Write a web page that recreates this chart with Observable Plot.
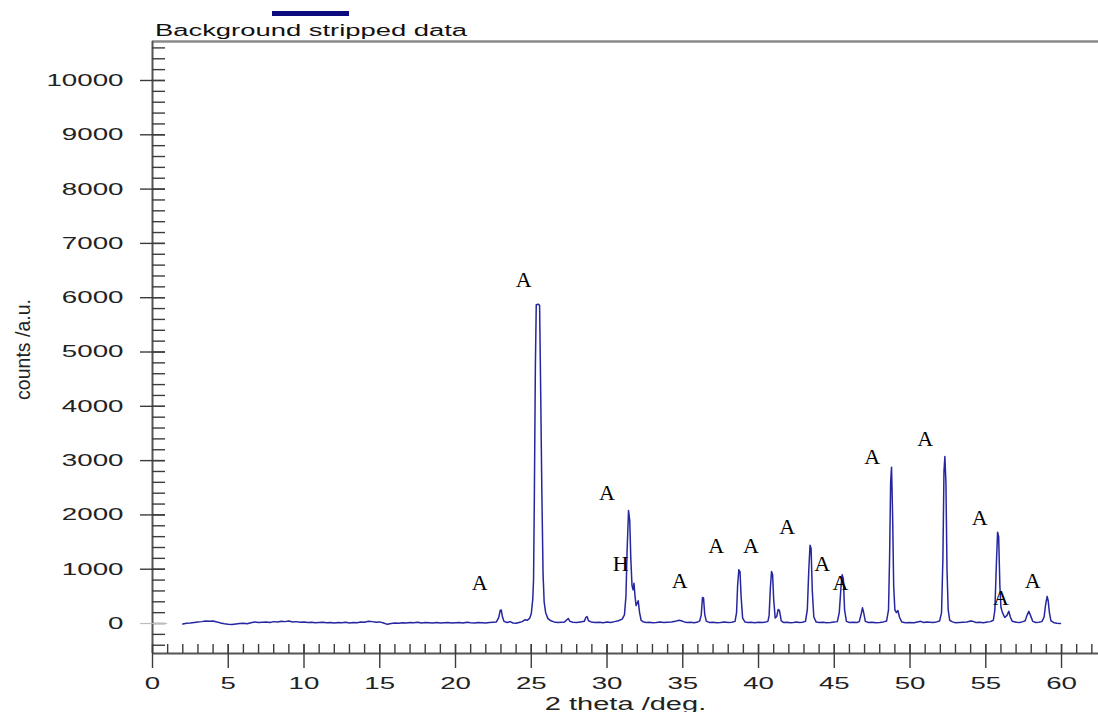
<!DOCTYPE html>
<html>
<head>
<meta charset="utf-8">
<script src="https://cdn.jsdelivr.net/npm/d3@7"></script>
<script src="https://cdn.jsdelivr.net/npm/@observablehq/plot@0.6"></script>
<style>
  html, body { margin: 0; padding: 0; background: #fff; }
  body { width: 1098px; height: 712px; overflow: hidden; font-family: "Liberation Sans", Arial, sans-serif; }
  #legend { position: relative; height: 36px; }
  #legend .swatch { position: absolute; left: 272px; top: 11px; width: 77px; height: 5px; background: #0b0b7e; }
  #legendText { position: absolute; left: 155px; top: 23px; font-size: 16px; line-height: 16px; color: #111; white-space: nowrap; display: inline-block; transform-origin: 0 0; }
  #chart svg { display: block; }
</style>
</head>
<body>
<div id="legend"><div class="swatch"></div><span id="legendText">Background stripped data</span></div>
<div id="chart"></div>
<script>
// ---- data (2θ in degrees, counts in a.u.) ----
const backgroundLow = [
  [2.0,-10],[2.25,5],[2.5,10],[2.75,20],[3.0,30],[3.25,35],[3.5,45],[3.75,40],[4.0,45],[4.25,30],
  [4.5,10],[4.75,-5],[5.0,-15],[5.25,-20],[5.5,-10],[5.75,0],[6.0,5],[6.25,-5],[6.5,15],[6.75,30],
  [7.0,20],[7.25,25],[7.5,30],[7.75,20],[8.0,35],[8.25,30],[8.5,40],[8.75,35],[9.0,45],[9.25,30],
  [9.5,35],[9.75,25],[10.0,30],[10.25,20],[10.5,25],[10.75,15],[11.0,20],[11.25,25],[11.5,15],[11.75,20],
  [12.0,10],[12.25,20],[12.5,15],[12.75,25],[13.0,10],[13.25,20],[13.5,15],[13.75,30],[14.0,25],[14.25,40],
  [14.5,35],[14.75,25],[15.0,30],[15.25,10],[15.5,-15],[15.75,0],[16.0,10],[16.25,5],[16.5,15],[16.75,10],
  [17.0,20],[17.25,15],[17.5,25],[17.75,10],[18.0,20],[18.25,15],[18.5,10],[18.75,20],[19.0,10],[19.25,15],
  [19.5,20],[19.75,10],[20.0,15],[20.25,20],[20.5,10],[20.75,25],[21.0,15],[21.25,10],[21.5,20],[21.75,15],
  [22.0,10],[22.25,20],[22.5,25]
];
const anataseMainRegion = [
  [22.7,30],[22.85,110],[22.95,240],[23.02,250],[23.1,120],[23.2,40],[23.4,20],[23.6,35],[23.8,10],[24.0,5],
  [24.2,20],[24.4,35],[24.6,70],[24.75,60],[24.9,100],[25.0,180],[25.1,450],[25.15,800],[25.2,2200],[25.27,4700],
  [25.33,5870],[25.45,5880],[25.55,5860],[25.62,4300],[25.7,2400],[25.78,900],[25.85,400],[25.95,200],[26.1,90],[26.3,50],
  [26.5,30],[26.75,20],[27.0,25],[27.2,30],[27.35,70],[27.45,90],[27.55,40],[27.75,25],[28.0,20],[28.25,30],
  [28.5,40],[28.6,110],[28.68,130],[28.78,50],[28.95,30],[29.2,20],[29.5,25],[29.75,15],[30.0,30],[30.25,20],
  [30.5,35],[30.75,50]
];
const hematiteRegion = [
  [31.0,80],[31.15,160],[31.25,500],[31.32,1300],[31.42,2080],[31.5,1900],[31.57,1200],[31.65,700],[31.72,620],[31.78,740],
  [31.85,500],[31.92,330],[32.0,380],[32.06,420],[32.15,200],[32.25,60],[32.4,30],[32.6,20],[32.8,25],[33.0,15],
  [33.25,20],[33.5,30],[33.75,20],[34.0,25],[34.25,30],[34.5,40],[34.75,60],[34.9,50],[35.1,30],[35.3,20],
  [35.5,25],[35.75,15],[36.0,30],[36.12,50],[36.22,160],[36.3,480],[36.37,470],[36.45,170],[36.55,45],[36.75,20],
  [37.0,25],[37.25,15],[37.5,20],[37.75,30],[38.0,20],[38.25,25],[38.45,40],[38.55,200],[38.62,700],[38.7,990],
  [38.78,950],[38.85,500],[38.95,100],[39.1,30],[39.3,20],[39.5,25],[39.75,15],[40.0,25],[40.25,20],[40.5,30]
];
const midAngleRegion = [
  [40.62,40],[40.7,150],[40.78,650],[40.86,960],[40.93,900],[41.0,450],[41.1,100],[41.2,130],[41.3,260],[41.38,240],
  [41.5,50],[41.65,20],[41.9,25],[42.1,15],[42.3,20],[42.5,30],[42.7,20],[42.9,25],[43.1,40],[43.22,250],
  [43.32,1000],[43.4,1440],[43.47,1380],[43.55,600],[43.65,120],[43.8,30],[44.0,20],[44.25,25],[44.5,15],[44.75,20],
  [45.0,30],[45.2,35],[45.33,200],[45.45,700],[45.52,900],[45.6,820],[45.68,250],[45.8,40],[46.0,20],[46.25,25],
  [46.5,20],[46.65,35],[46.78,180],[46.86,290],[46.94,200],[47.05,40],[47.25,20],[47.5,25],[47.75,15],[48.0,20],
  [48.25,30]
];
const highAngleRegion = [
  [48.45,45],[48.58,250],[48.65,1200],[48.72,2600],[48.78,2880],[48.85,2000],[48.92,700],[49.0,250],[49.1,200],[49.2,240],
  [49.3,120],[49.45,30],[49.7,15],[50.0,20],[50.25,15],[50.5,30],[50.7,40],[50.9,20],[51.1,30],[51.3,25],
  [51.5,20],[51.75,30],[51.95,45],[52.08,200],[52.17,1200],[52.24,2800],[52.3,3075],[52.37,2600],[52.44,1000],[52.52,250],
  [52.62,60],[52.8,30],[53.0,15],[53.25,20],[53.5,25],[53.75,30],[54.0,45],[54.15,40],[54.35,20],[54.6,25],
  [54.85,15],[55.1,30],[55.3,35],[55.5,60],[55.6,250],[55.7,1100],[55.78,1680],[55.85,1600],[55.93,700],[56.0,300],
  [56.1,200],[56.25,110],[56.4,150],[56.52,225],[56.62,120],[56.75,40],[57.0,25],[57.25,20],[57.45,35],[57.6,50],
  [57.72,150],[57.84,225],[57.95,150],[58.1,40],[58.3,20],[58.5,25],[58.7,35],[58.85,120],[58.95,350],[59.05,500],
  [59.12,420],[59.2,200],[59.3,50],[59.5,15],[59.7,5],[59.93,0]
];

// peak phase labels (A = anatase, H = hematite)
const peakLabel = ["A","A","A","H","A","A","A","A","A","A","A","A","A","A","A"];
const labelAngle = [21.6,24.5,30.0,30.9,34.8,37.2,39.5,41.9,44.2,45.4,47.5,51.0,54.6,56.0,58.1];
const labelCount = [740,6335,2410,1090,775,1420,1420,1770,1105,740,3075,3405,1950,480,775];

// axis ticks
const xMajorTicks = [0,5,10,15,20,25,30,35,40,45,50,55,60];
const yMajorTicks = [0,1000,2000,3000,4000,5000,6000,7000,8000,9000,10000];
const xMinorTicks = d3.range(1, 63, 1);
const yMinorTicks = d3.range(-400, 10700, 200);
const xDomain = [0, 62.44];
const yDomain = [-552, 10718];

const scan = [].concat(backgroundLow, anataseMainRegion, hematiteRegion, midAngleRegion, highAngleRegion)
  .map(([t, c]) => ({t, c}));
const labels = peakLabel.map((s, i) => ({s, t: labelAngle[i], c: labelCount[i]}));

const W = 1098, H = 676, mT = 5, mB = 59, mL = 152, mR = 0;
const fw = W - mL - mR, fh = H - mT - mB;
const tickColor = "#3c3c3c";

const chart = Plot.plot({
  width: W, height: H,
  marginTop: mT, marginBottom: mB, marginLeft: mL, marginRight: mR,
  x: {domain: xDomain},
  y: {domain: yDomain},
  style: {fontFamily: "'Liberation Sans', Arial, sans-serif", fontSize: "17px", color: "#222", background: "white", overflow: "visible"},
  marks: [
    // frame: top line, axis lines
    Plot.ruleY([yDomain[1]], {stroke: "#8a8a8a", strokeWidth: 2.5}),
    Plot.ruleX([xDomain[0]], {stroke: "#555", strokeWidth: 2}),
    Plot.ruleY([yDomain[0]], {stroke: "#555", strokeWidth: 2}),
    // y ticks (inside) and major ticks crossing axis
    Plot.ruleY(yMinorTicks, {stroke: tickColor, strokeWidth: 1.4, insetRight: fw - 13}),
    Plot.ruleY(yMajorTicks.filter(d => d !== 0), {stroke: tickColor, strokeWidth: 1.4, insetRight: fw - 25, dx: -12}),
    Plot.ruleY([0], {stroke: "#bdbdbd", strokeWidth: 1.2, insetRight: fw - 27, dx: -12}),
    // x ticks (minor inside, major crossing below)
    Plot.ruleX(xMinorTicks, {stroke: tickColor, strokeWidth: 1.4, insetTop: fh - 9}),
    Plot.ruleX(xMajorTicks, {stroke: tickColor, strokeWidth: 1.4, insetTop: fh - 24, dy: 15}),
    Plot.axisY({ticks: yMajorTicks, tickSize: 0, tickPadding: 29, tickFormat: d3.format("d"), label: null, fill: "#222"}),
    Plot.axisX({ticks: xMajorTicks, tickSize: 0, tickPadding: 23, tickFormat: d3.format("d"), label: null, fill: "#222"}),
    // axis titles
    Plot.text(["2 theta /deg."], {frameAnchor: "bottom", dy: 51, fontSize: 17.5, fill: "#222", lineAnchor: "middle"}),
    Plot.text(["counts /a.u."], {frameAnchor: "left", dx: -129, dy: 2, rotate: -90, textAnchor: "middle", fontSize: 19.5, fill: "#222", lineAnchor: "middle"}),
    // data
    Plot.line(scan, {x: "t", y: "c", stroke: "#2626a0", strokeWidth: 1.5, strokeLinejoin: "round"}),
    // phase labels
    Plot.text(labels, {x: "t", y: "c", text: "s", fontFamily: "'Liberation Serif', 'Times New Roman', serif", fontSize: 22, fill: "#000"})
  ]
});

document.getElementById("chart").append(chart);

function stretch(nodes, k) {
  nodes.forEach(t => {
    const w = t.getComputedTextLength();
    t.setAttribute("textLength", (w * k).toFixed(1));
    t.setAttribute("lengthAdjust", "spacingAndGlyphs");
  });
}
stretch(chart.querySelectorAll('g[aria-label="y-axis tick label"] text'), 1.63);
stretch(chart.querySelectorAll('g[aria-label="x-axis tick label"] text'), 1.63);
stretch([...chart.querySelectorAll("text")].filter(t => t.textContent === "2 theta /deg."), 1.66);

const lt = document.getElementById("legendText");
const lw = lt.getBoundingClientRect().width;
lt.style.transform = `scaleX(${312 / lw})`;
</script>
</body>
</html>
